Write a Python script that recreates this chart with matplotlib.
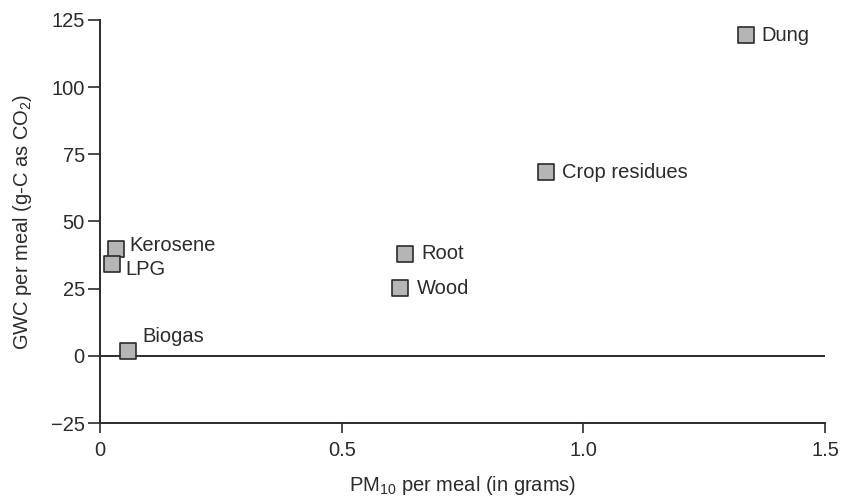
import matplotlib

matplotlib.use("Agg")
import matplotlib.pyplot as plt

plt.rcParams["font.family"] = ["Liberation Sans", "DejaVu Sans"]
plt.rcParams["axes.unicode_minus"] = True

# Fuel values
fuels = ["Kerosene", "LPG", "Biogas", "Root", "Wood", "Crop residues", "Dung"]
pm10 = [0.032, 0.024, 0.058, 0.631, 0.621, 0.922, 1.337]
gwc = [39.6, 34.2, 2.0, 37.9, 25.1, 68.3, 119.2]
# label offsets (points) from each marker
label_dx = [10, 10, 10, 12, 12, 12, 11]
label_dy = [3, -4, 10, 0, 0, 0, 0]

x_ticks = [0, 0.5, 1.0, 1.5]
x_ticklabels = ["0", "0.5", "1.0", "1.5"]
y_ticks = [-25, 0, 25, 50, 75, 100, 125]

ink = "#2b2b2b"

fig = plt.figure(figsize=(8.41, 4.96), dpi=100)
ax = fig.add_axes([0.119, 0.147, 0.862, 0.813])

ax.axhline(0, color=ink, linewidth=1.4, zorder=1)
ax.scatter(pm10, gwc, marker="s", s=120, facecolor="#b5b5b5",
           edgecolor=ink, linewidth=1.2, zorder=3)

for name, x, y, dx, dy in zip(fuels, pm10, gwc, label_dx, label_dy):
    ax.annotate(name, (x, y), xytext=(dx, dy), textcoords="offset points",
                ha="left", va="center", fontsize=14.5, color=ink)

ax.set_xlim(0, 1.5)
ax.set_ylim(-25, 125)
ax.set_xticks(x_ticks)
ax.set_xticklabels(x_ticklabels)
ax.set_yticks(y_ticks)

for side in ("top", "right"):
    ax.spines[side].set_visible(False)
for side in ("left", "bottom"):
    ax.spines[side].set_color(ink)
    ax.spines[side].set_linewidth(1.4)

ax.tick_params(axis="x", direction="out", length=7, width=1.2, colors=ink,
               labelsize=14.5, pad=6)
ax.tick_params(axis="y", direction="out", length=9, width=1.2, colors=ink,
               labelsize=14.5, pad=2)

ax.set_xlabel(r"PM$_\mathregular{10}$ per meal (in grams)", fontsize=14.5,
              color=ink, labelpad=10)
ax.set_ylabel(r"GWC per meal (g-C as CO$_\mathregular{2}$)", fontsize=14.5,
              color=ink, labelpad=12)

fig.savefig("out.png", dpi=100)
